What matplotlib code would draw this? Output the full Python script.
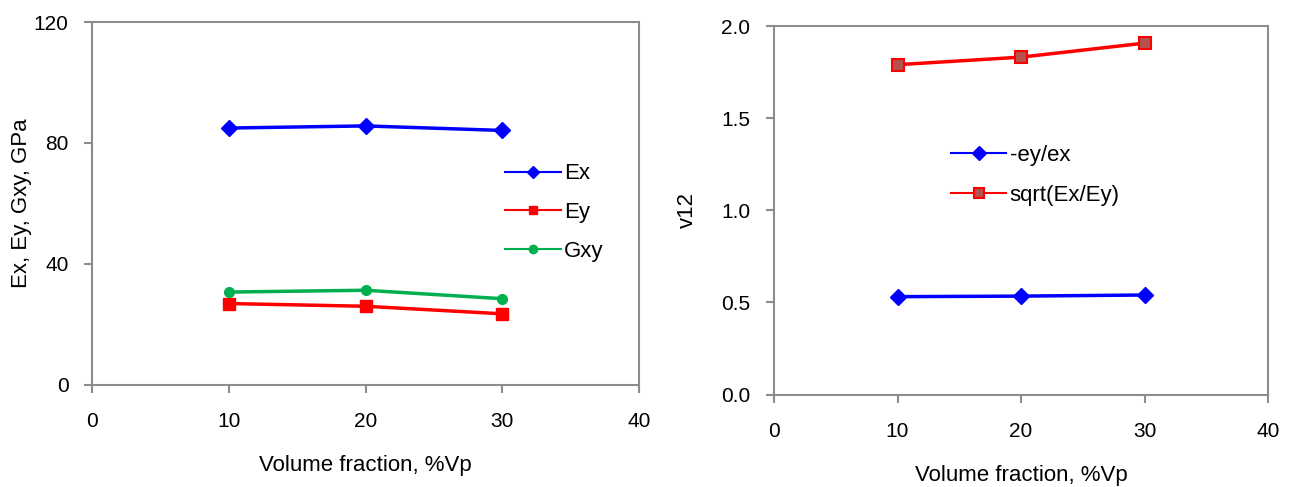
import matplotlib
matplotlib.use("Agg")
import matplotlib.pyplot as plt

plt.rcParams["font.family"] = ["Liberation Sans", "DejaVu Sans"]

vf = [10, 20, 30]
ex = [84.9, 85.6, 84.1]
ey = [26.8, 25.9, 23.4]
gxy = [30.6, 31.2, 28.4]

nu_ratio = [0.531, 0.534, 0.540]
nu_sqrt = [1.790, 1.831, 1.907]

FS = 15
LFS = 16
GRAY = "#8c8c8c"

fig = plt.figure(figsize=(12.91, 4.87), dpi=100)
ax1 = fig.add_axes([92 / 1291, 1 - 384.5 / 487, 547 / 1291, 362.5 / 487])
ax2 = fig.add_axes([774 / 1291, 1 - 394.5 / 487, 494 / 1291, 368.5 / 487])


def style(ax):
    for s in ax.spines.values():
        s.set_color(GRAY)
        s.set_linewidth(1.5)
    ax.tick_params(direction="out", length=6, width=1.5, color=GRAY,
                   labelsize=FS, labelcolor="black")
    ax.tick_params(axis="x", pad=14)
    ax.tick_params(axis="y", pad=11)
    ax.set_xlim(0, 40)
    ax.set_xticks([0, 10, 20, 30, 40])
    ax.set_xlabel("Volume fraction, %Vp", fontsize=LFS, labelpad=17)


# left: moduli
ax1.plot(vf, ex, color="blue", lw=2.5, marker="D", ms=8, label="Ex")
ax1.plot(vf, ey, color="red", lw=2.5, marker="s", ms=8, label="Ey")
ax1.plot(vf, gxy, color="#00b050", lw=2.5, marker="o", ms=7, label="Gxy")
style(ax1)
ax1.set_ylim(0, 120)
ax1.set_yticks([0, 40, 80, 120])
ax1.set_ylabel("Ex, Ey, Gxy, GPa", fontsize=LFS, labelpad=1)
leg1 = ax1.legend(loc="upper left", bbox_to_anchor=(0.755, 0.61), frameon=False,
                  fontsize=LFS, handlelength=2.5, handletextpad=0.15,
                  labelspacing=0.8, borderpad=0, borderaxespad=0)
for h in leg1.get_lines():
    h.set_linewidth(1.5)
    h.set_markersize(6)

# right: poisson ratio
ax2.plot(vf, nu_ratio, color="blue", lw=2.5, marker="D", ms=8, label="-ey/ex")
ax2.plot(vf, nu_sqrt, color="red", lw=2.5, marker="s", ms=8,
         mfc="#b5524f", mec="red", mew=1.5, label="sqrt(Ex/Ey)")
style(ax2)
ax2.set_ylim(0, 2.0)
ax2.set_yticks([0.0, 0.5, 1.0, 1.5, 2.0])
ax2.set_yticklabels(["0.0", "0.5", "1.0", "1.5", "2.0"])
ax2.set_ylabel("v12", fontsize=LFS, labelpad=17)
leg2 = ax2.legend(loc="upper left", bbox_to_anchor=(0.358, 0.678), frameon=False,
                  fontsize=LFS, handlelength=2.5, handletextpad=0.15,
                  labelspacing=0.85, borderpad=0, borderaxespad=0)
for h in leg2.get_lines():
    h.set_linewidth(1.5)
    h.set_markersize(7)

fig.savefig("out.png", dpi=100)
